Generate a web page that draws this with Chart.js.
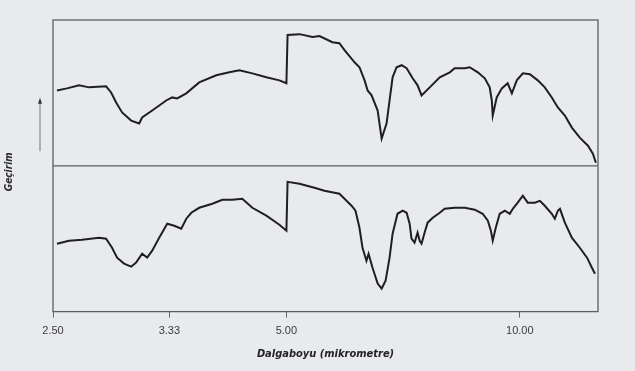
<!DOCTYPE html>
<html>
<head>
<meta charset="utf-8">
<script src="https://cdn.jsdelivr.net/npm/chart.js@4"></script>
<style>
  html, body { margin: 0; padding: 0; background: #e8eaed; }
</style>
</head>
<body>
<canvas id="irChart" width="635" height="371"></canvas>
<script>
// upper spectrum: wavenumber (cm-1) and transmittance (%)
const topWave = [3966, 3880, 3777, 3691, 3545, 3502, 3459, 3408, 3330, 3262, 3236, 3150, 3030, 2979, 2936, 2858,
  2747, 2601, 2489, 2403, 2292, 2172, 2060, 2000, 1995, 1944, 1888, 1858, 1803, 1773, 1751, 1708, 1687, 1665,
  1652, 1635, 1609, 1592, 1571, 1558, 1545, 1528, 1506, 1485, 1459, 1438, 1421, 1386, 1343, 1300, 1279, 1236,
  1215, 1180, 1150, 1129, 1120, 1116, 1099, 1077, 1052, 1034, 1013, 987, 957, 923, 893, 863, 837, 807, 777,
  743, 708, 687, 674];
const topTrans = [51.7, 53.1, 55.2, 53.8, 54.5, 50.3, 43.4, 36.6, 31.0, 29.0, 33.1, 37.9, 44.8, 46.9, 46.2, 49.7,
  57.2, 62.1, 64.1, 65.5, 63.4, 60.7, 58.6, 56.6, 89.7, 90.3, 88.3, 89.0, 84.8, 84.1, 79.3, 71.0, 67.6, 58.6,
  51.7, 48.3, 37.9, 18.6, 29.0, 44.8, 60.7, 67.6, 69.0, 66.9, 60.0, 55.2, 48.3, 53.8, 60.7, 64.1, 66.9, 66.9,
  67.6, 64.1, 60.0, 53.8, 44.8, 34.5, 46.9, 53.1, 56.6, 49.7, 58.6, 63.4, 62.8, 58.6, 53.8, 46.9, 40.0, 34.5, 26.2,
  19.3, 13.8, 8.3, 2.1];

// lower spectrum
const bottomWave = [3966, 3863, 3751, 3605, 3545, 3494, 3451, 3391, 3330, 3288, 3236, 3193, 3150, 3090, 3021, 2961,
  2901, 2858, 2815, 2747, 2635, 2549, 2464, 2378, 2292, 2172, 2060, 2000, 1995, 1944, 1880, 1837, 1773, 1751,
  1721, 1704, 1687, 1674, 1657, 1648, 1631, 1609, 1592, 1575, 1558, 1545, 1524, 1502, 1485, 1472, 1464, 1451,
  1438, 1429, 1421, 1408, 1395, 1373, 1343, 1322, 1279, 1236, 1193, 1159, 1137, 1124, 1116, 1103, 1086, 1064,
  1043, 1030, 1009, 987, 966, 936, 914, 893, 863, 850, 837, 828, 807, 777, 743, 712, 691, 678];
const bottomTrans = [46.6, 48.6, 49.3, 50.7, 50.0, 43.8, 37.0, 32.9, 30.8, 33.6, 39.7, 37.0, 41.8, 50.7, 60.3, 58.9,
  56.8, 63.7, 67.8, 71.2, 74.0, 76.7, 76.7, 77.4, 71.2, 65.8, 59.6, 55.5, 89.0, 87.7, 84.9, 82.9, 80.8, 77.4,
  72.6, 69.2, 57.5, 43.8, 34.9, 39.7, 30.1, 19.2, 15.8, 21.2, 37.0, 53.4, 67.1, 69.2, 67.8, 60.3, 50.0, 47.3,
  54.1, 48.6, 46.6, 54.1, 61.0, 64.4, 67.8, 70.5, 71.2, 71.2, 69.9, 67.1, 62.3, 55.5, 48.6, 57.5, 67.1, 69.2,
  67.1, 70.5, 74.7, 79.5, 74.7, 74.7, 76.0, 72.6, 67.1, 63.7, 69.2, 70.5, 61.0, 50.7, 43.8, 37.0, 30.1, 26.0];

// x axis tick labels (micrometres)
const tickMicrons = [2.5, 3.33, 5, 10];

// IR chart paper: 4000-2000 cm-1 at half the spacing of 2000-400 cm-1
class WaveScale extends Chart.LinearScale {
  static id = 'wave';
  static defaults = {};
  place(v) { return v >= 2000 ? 4000 - v : 2000 + (2000 - v) * 2; }
  buildTicks() { return tickMicrons.map(m => ({ value: 10000 / m })); }
  getPixelForValue(v) {
    const a = this.place(this.max), b = this.place(this.min);
    return this.getPixelForDecimal((this.place(v) - a) / (b - a));
  }
  getValueForPixel(p) {
    const a = this.place(this.max), b = this.place(this.min);
    const u = a + this.getDecimalForPixel(p) * (b - a);
    return u <= 2000 ? 4000 - u : 2000 - (u - 2000) / 2;
  }
}
Chart.register(WaveScale);

const toPoints = (xs, ys) => xs.map((x, i) => ({ x: x, y: ys[i] }));

const framePlugin = {
  id: 'frame',
  afterDraw(chart) {
    const ctx = chart.ctx, a = chart.chartArea, yTop = chart.scales.yTop;
    ctx.save();
    ctx.strokeStyle = '#5c5e62';
    ctx.lineWidth = 1.3;
    ctx.strokeRect(a.left, a.top, a.right - a.left, a.bottom - a.top);
    ctx.beginPath();
    ctx.moveTo(a.left, yTop.bottom);
    ctx.lineTo(a.right, yTop.bottom);
    ctx.stroke();
    // arrow beside the upper panel
    const ax = a.left - 13, y0 = yTop.getPixelForValue(44), y1 = yTop.getPixelForValue(10);
    ctx.strokeStyle = '#777';
    ctx.lineWidth = 1;
    ctx.beginPath();
    ctx.moveTo(ax, y0);
    ctx.lineTo(ax, y1);
    ctx.stroke();
    ctx.fillStyle = '#333';
    ctx.beginPath();
    ctx.moveTo(ax, y0 - 4);
    ctx.lineTo(ax - 2, y0 + 2);
    ctx.lineTo(ax + 2, y0 + 2);
    ctx.closePath();
    ctx.fill();
    // y title
    ctx.translate(9, (a.top + a.bottom) / 2 + 6);
    ctx.rotate(-Math.PI / 2);
    ctx.fillStyle = '#2a2a2a';
    ctx.font = 'italic bold 10px "Liberation Sans Narrow", "DejaVu Sans Condensed", sans-serif';
    ctx.textAlign = 'center';
    ctx.textBaseline = 'middle';
    ctx.fillText('Geçirim', 0, 0);
    ctx.restore();
  }
};

const hiddenY = {
  type: 'linear',
  position: 'left',
  stack: 'ir',
  stackWeight: 1,
  min: 0,
  max: 100,
  ticks: { display: false },
  grid: { display: false },
  border: { display: false }
};

new Chart('irChart', {
  type: 'line',
  data: {
    datasets: [
      { data: toPoints(topWave, topTrans), yAxisID: 'yTop', borderColor: '#1f1f1f', borderWidth: 2, pointRadius: 0, tension: 0 },
      { data: toPoints(bottomWave, bottomTrans), yAxisID: 'yBottom', borderColor: '#1f1f1f', borderWidth: 2, pointRadius: 0, tension: 0 }
    ]
  },
  options: {
    responsive: false,
    animation: false,
    events: [],
    layout: { padding: { left: 45, right: 37, top: 20, bottom: 8 } },
    plugins: { legend: { display: false }, tooltip: { enabled: false } },
    scales: {
      x: {
        type: 'wave',
        min: 665,
        max: 4000,
        border: { display: false },
        grid: { drawOnChartArea: false, tickLength: 6, color: '#666' },
        ticks: {
          maxRotation: 0,
          autoSkip: false,
          padding: 7,
          color: '#3c3c3c',
          font: { size: 11, family: '"Liberation Sans", Arial, sans-serif' },
          callback: v => (10000 / v).toFixed(2)
        },
        title: {
          display: true,
          text: 'Dalgaboyu (mikrometre)',
          color: '#222',
          font: { size: 11, style: 'italic', weight: 'bold', family: '"Liberation Sans Narrow", "DejaVu Sans Condensed", sans-serif' },
          padding: { top: 3, bottom: 2 }
        }
      },
      yBottom: hiddenY,
      yTop: Object.assign({}, hiddenY)
    }
  },
  plugins: [framePlugin]
});
</script>
</body>
</html>
